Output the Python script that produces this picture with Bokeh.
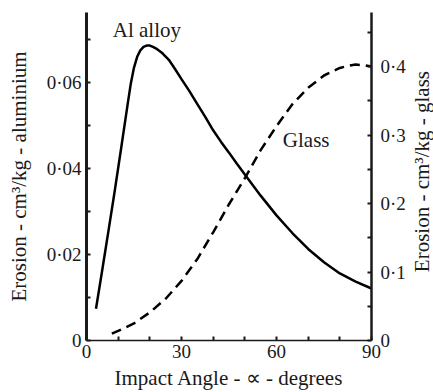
import math
from bokeh.plotting import figure
from bokeh.models import LinearAxis, Range1d, FixedTicker, Label
from bokeh.layouts import row
from bokeh.core.properties import value
from bokeh.embed import file_html
from bokeh.resources import INLINE

# ---- data ----
angle_al = [3, 5, 7, 9, 11, 13, 14, 15, 16, 17, 18, 19, 20, 21, 22, 24, 26, 28, 30, 32.5, 35, 37.5, 40, 42.5, 45, 47.5, 50, 55, 60, 65, 70, 75, 80, 85, 90]
erosion_al = [0.0074, 0.0165, 0.0258, 0.0352, 0.0450, 0.0550, 0.0598, 0.0635, 0.0660, 0.0675, 0.0683, 0.0686, 0.0686, 0.0683, 0.0679, 0.0668, 0.0653, 0.0631, 0.0608, 0.0580, 0.0550, 0.0520, 0.0489, 0.0462, 0.0437, 0.0411, 0.0386, 0.0337, 0.0291, 0.0250, 0.0213, 0.0182, 0.0156, 0.0137, 0.0121]

angle_glass = [8, 10, 15, 20, 25, 30, 35, 40, 45, 50, 55, 60, 65, 70, 75, 80, 82.5, 85, 87.5, 90]
erosion_glass = [0.010, 0.014, 0.025, 0.041, 0.061, 0.087, 0.119, 0.158, 0.199, 0.237, 0.278, 0.313, 0.345, 0.369, 0.387, 0.398, 0.401, 0.403, 0.402, 0.400]

x_major = [0, 30, 60, 90]
x_minor = [10, 20, 40, 50, 70, 80]
left_major = [0, 0.02, 0.04, 0.06]
left_minor = [0.01, 0.03, 0.05, 0.07]
left_labels = ["0", "0·02", "0·04", "0·06"]
right_major = [0, 0.1, 0.2, 0.3, 0.4]
right_minor = [0.05, 0.15, 0.25, 0.35, 0.45]
right_labels = ["0", "0·1", "0·2", "0·3", "0·4"]

label_names = ["Al alloy", "Glass"]
label_x = [8.3, 62.0]
label_y = [0.0722, 0.0466]

x_title = "Impact Angle - ∝ - degrees"
left_title = "Erosion - cm³/kg - aluminium"
right_title = "Erosion - cm³/kg - glass"

FONT = "Liberation Serif"
INK = "#1a1a1a"

p = figure(width=408, height=392, x_range=Range1d(0, 90), y_range=Range1d(0, 0.0763),
           output_backend="svg", toolbar_location=None,
           min_border_left=86, min_border_right=36, min_border_top=12, min_border_bottom=52)
p.extra_y_ranges = {"glass": Range1d(0, 0.479)}
p.outline_line_color = None
p.xgrid.visible = False
p.ygrid.visible = False
p.background_fill_color = "white"
p.border_fill_color = "white"

def style(ax, width):
    ax.axis_line_width = width
    ax.axis_line_color = INK
    ax.major_tick_in = 4
    ax.major_tick_out = 0
    ax.minor_tick_in = 4
    ax.minor_tick_out = 0
    ax.major_tick_line_width = 2
    ax.minor_tick_line_width = 2
    ax.major_tick_line_color = INK
    ax.minor_tick_line_color = INK
    ax.major_label_text_font = FONT
    ax.major_label_text_font_size = "19px"
    ax.major_label_text_color = INK
    ax.axis_label_text_font = FONT
    ax.axis_label_text_font_size = "21px"
    ax.axis_label_text_font_style = "normal"
    ax.axis_label_text_color = INK

xa = p.xaxis[0]
xa.ticker = FixedTicker(ticks=x_major, minor_ticks=x_minor)
xa.axis_label = x_title
style(xa, 1.5)
xa.major_label_standoff = 4
xa.axis_label_standoff = 5

ya = p.yaxis[0]
ya.ticker = FixedTicker(ticks=left_major, minor_ticks=left_minor)
ya.major_label_overrides = {t: s for t, s in zip(left_major, left_labels)}
ya.axis_label = left_title
style(ya, 3)
ya.major_label_standoff = 5
ya.axis_label_standoff = 13

ra = LinearAxis(y_range_name="glass")
ra.ticker = FixedTicker(ticks=right_major, minor_ticks=right_minor)
ra.major_label_overrides = {t: s for t, s in zip(right_major, right_labels)}
style(ra, 2.5)
ra.major_label_standoff = 9
p.add_layout(ra, "right")

p.line(angle_al, erosion_al, line_color="black", line_width=2.5)
p.line(angle_glass, erosion_glass, line_color="black", line_width=2.5,
       line_dash="10 6", y_range_name="glass")

p.text(x=label_x, y=label_y, text=label_names, text_font=value(FONT),
       text_font_size="21px", text_color=INK, text_baseline="middle", text_align="left")

# narrow strip carrying the right-hand axis title, reading bottom-to-top
p2 = figure(width=25, height=392, x_range=Range1d(0, 1), y_range=Range1d(0, 1),
            output_backend="svg", toolbar_location=None,
            x_axis_location=None, y_axis_location=None, min_border=0)
p2.outline_line_color = None
p2.xgrid.visible = False
p2.ygrid.visible = False
p2.border_fill_color = "white"
p2.add_layout(Label(x=0.54, y=0.515, text=right_title, angle=math.pi / 2,
                    text_align="center", text_baseline="middle",
                    text_font=FONT, text_font_size="21px", text_color=INK))

layout = row(p, p2, spacing=0)
open("out.html", "w").write(file_html(layout, INLINE))
